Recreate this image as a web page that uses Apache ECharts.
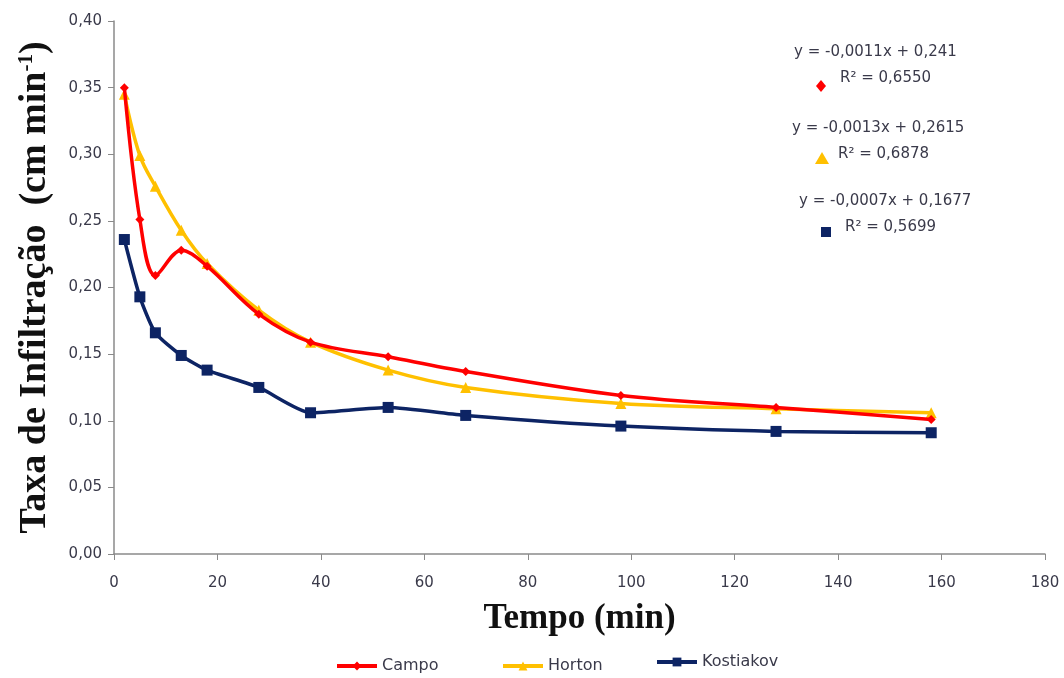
<!DOCTYPE html>
<html>
<head>
<meta charset="utf-8">
<script src="https://cdn.jsdelivr.net/npm/echarts@6/dist/echarts.min.js"></script>
<style>
  html, body { margin: 0; padding: 0; background: #fff; }
  #chart { width: 1064px; height: 678px; }
</style>
</head>
<body>
<div id="chart"></div>
<script>
const tempo = [2, 5, 8, 13, 18, 28, 38, 53, 68, 98, 128, 158];
const campo = [0.350, 0.251, 0.209, 0.228, 0.216, 0.180, 0.159, 0.148, 0.137, 0.119, 0.110, 0.101];
const horton = [0.345, 0.299, 0.276, 0.243, 0.218, 0.183, 0.159, 0.138, 0.125, 0.113, 0.109, 0.106];
const kostiakov = [0.236, 0.193, 0.166, 0.149, 0.138, 0.125, 0.106, 0.110, 0.104, 0.096, 0.092, 0.091];
const equations = [
  ['y = -0,0011x + 0,241', 'R² = 0,6550'],
  ['y = -0,0013x + 0,2615', 'R² = 0,6878'],
  ['y = -0,0007x + 0,1677', 'R² = 0,5699']
];

const pairs = (ys) => tempo.map((t, i) => [t, ys[i]]);
const labelFont = 'DejaVu Sans';
const textColor = '#3a3a4a';

let dom = document.getElementById('chart');
let myChart = echarts.init(dom, null, { renderer: 'canvas' });

function legendAt(name, left, top) {
  return {
    data: [name],
    left: left,
    top: top,
    itemWidth: 40,
    itemHeight: 11,
    itemGap: 6,
    lineStyle: { width: 4 },
    textStyle: { fontFamily: labelFont, fontSize: 16, color: textColor }
  };
}

function eqText(lines, left, top) {
  return [
    { type: 'text', left: left, top: top,
      style: { text: lines[0], font: '15px "DejaVu Sans"', fill: textColor } },
    { type: 'text', left: left + 46, top: top + 26,
      style: { text: lines[1], font: '15px "DejaVu Sans"', fill: textColor } }
  ];
}

let option = {
  backgroundColor: '#fff',
  animation: false,
  grid: { left: 114, right: 19, top: 21, bottom: 124 },
  legend: [
    legendAt('Campo', 330, 653),
    legendAt('Horton', 496, 653),
    legendAt('Kostiakov', 650, 649)
  ],
  xAxis: {
    type: 'value',
    min: 0, max: 180, interval: 20,
    name: 'Tempo (min)',
    nameLocation: 'middle',
    nameGap: 47,
    nameTextStyle: { fontFamily: 'Liberation Serif', fontWeight: 'bold', fontSize: 35, color: '#111' },
    axisLine: { lineStyle: { color: '#8a8a8a', width: 1.5 } },
    axisTick: { show: true, length: 6, lineStyle: { color: '#8a8a8a' } },
    axisLabel: { fontFamily: labelFont, fontSize: 15, color: textColor, margin: 22 },
    splitLine: { show: false }
  },
  yAxis: {
    type: 'value',
    min: 0, max: 0.4, interval: 0.05,
    name: '{n|Taxa de Infiltração  (cm min}{s|-1}{n|)}',
    nameLocation: 'middle',
    nameGap: 60,
    nameRotate: 90,
    nameTextStyle: {
      rich: {
        n: { fontFamily: 'Liberation Serif', fontWeight: 'bold', fontSize: 38, color: '#111' },
        s: { fontFamily: 'Liberation Serif', fontWeight: 'bold', fontSize: 21, color: '#111', verticalAlign: 'top', padding: [0, 0, 15, 0] }
      }
    },
    axisLine: { show: true, lineStyle: { color: '#8a8a8a', width: 1.5 } },
    axisTick: { show: true, length: 6, lineStyle: { color: '#8a8a8a' } },
    axisLabel: {
      fontFamily: labelFont, fontSize: 15, color: textColor, margin: 12,
      formatter: (v) => v.toFixed(2).replace('.', ',')
    },
    splitLine: { show: false }
  },
  series: [
    {
      name: 'Campo', type: 'line', data: pairs(campo), smooth: 0.35,
      symbol: 'diamond', symbolSize: 9,
      lineStyle: { color: '#ff0000', width: 3.5 },
      itemStyle: { color: '#ff0000' }, z: 3
    },
    {
      name: 'Horton', type: 'line', data: pairs(horton), smooth: 0.35,
      symbol: 'triangle', symbolSize: 11,
      lineStyle: { color: '#ffc000', width: 3.5 },
      itemStyle: { color: '#ffc000' }, z: 2
    },
    {
      name: 'Kostiakov', type: 'line', data: pairs(kostiakov), smooth: 0.2,
      symbol: 'rect', symbolSize: 11,
      lineStyle: { color: '#0d2464', width: 3.5 },
      itemStyle: { color: '#0d2464' }, z: 4
    }
  ],
  graphic: [
    ...eqText(equations[0], 794, 45),
    ...eqText(equations[1], 792, 121),
    ...eqText(equations[2], 799, 194),
    { type: 'polygon', shape: { points: [[821, 80], [826, 86], [821, 92], [816, 86]] }, style: { fill: '#ff0000' } },
    { type: 'polygon', shape: { points: [[822, 152], [829, 164], [815, 164]] }, style: { fill: '#ffc000' } },
    { type: 'rect', shape: { x: 821, y: 227, width: 10, height: 10 }, style: { fill: '#0d2464' } }
  ]
};

myChart.setOption(option);
window.addEventListener('resize', myChart.resize);
</script>
</body>
</html>
